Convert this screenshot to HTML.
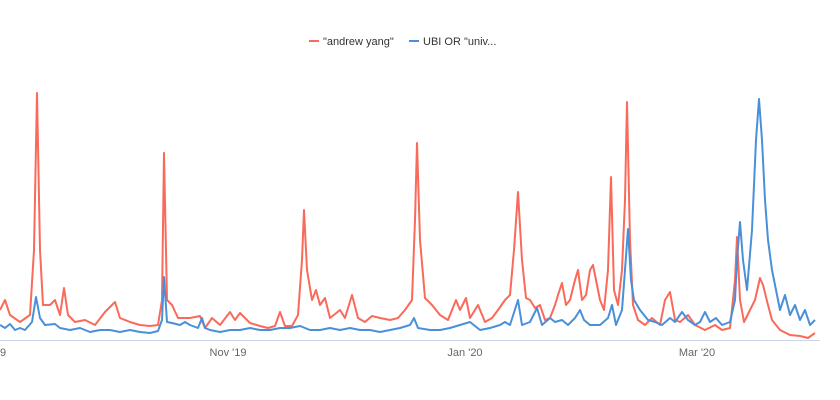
<!DOCTYPE html>
<html><head><meta charset="utf-8"><style>
html,body{margin:0;padding:0;background:#fff;}
svg{display:block;font-family:"Liberation Sans",sans-serif;}
</style></head><body>
<svg width="840" height="400" viewBox="0 0 840 400">
<line x1="0" y1="340.5" x2="820" y2="340.5" stroke="#ccd6eb" stroke-width="1"/>
<g font-size="11" fill="#666">
<text x="0" y="356">9</text>
<text x="228" y="356" text-anchor="middle">Nov '19</text>
<text x="465" y="356" text-anchor="middle">Jan '20</text>
<text x="697" y="356" text-anchor="middle">Mar '20</text>
</g>
<g font-size="11" fill="#333">
<line x1="309" y1="41" x2="319" y2="41" stroke="#fa6a5a" stroke-width="2"/>
<text x="323" y="45">"andrew yang"</text>
<line x1="409" y1="41" x2="419" y2="41" stroke="#4a90d9" stroke-width="2"/>
<text x="423" y="45">UBI OR "univ...</text>
</g>
<polyline fill="none" stroke="#fa6a5a" stroke-width="2" stroke-linejoin="round" points="0,310 5,300 10,315 20,322 30,315 34,250 37,93 40,250 43,305 50,305 55,300 60,315 64,288 68,315 75,322 85,320 95,325 105,312 115,302 120,318 130,322 140,325 150,326 158,325 162,300 164,153 167,300 172,305 178,318 190,318 200,316 205,328 212,318 220,325 230,312 235,320 240,313 250,323 260,326 268,328 275,326 280,312 285,326 292,326 298,315 302,260 304,210 307,270 312,300 316,290 320,305 325,298 330,318 340,310 345,318 352,295 358,318 365,322 372,316 380,318 390,320 398,318 405,310 412,300 415,220 417,143 420,240 425,298 432,305 440,315 448,320 456,300 460,310 466,298 470,318 478,305 485,322 492,318 498,310 505,300 510,295 514,250 518,192 522,260 526,298 530,300 535,308 540,305 545,320 550,318 555,305 558,295 562,283 566,305 570,300 575,280 578,270 582,300 586,295 590,270 593,265 597,285 600,300 604,310 608,270 611,177 614,290 618,305 622,270 625,200 627,102 630,240 633,305 638,320 645,325 652,318 660,325 665,300 670,292 675,320 680,322 688,315 695,325 705,330 715,325 722,330 730,328 735,280 737,237 740,300 744,322 750,310 755,300 760,278 763,285 768,305 772,320 780,330 790,335 800,336 808,338 815,333"/>
<polyline fill="none" stroke="#4a90d9" stroke-width="2" stroke-linejoin="round" points="0,325 5,328 10,324 15,330 20,328 25,330 32,322 36,297 40,318 45,325 55,324 60,328 70,330 80,328 90,332 100,330 110,330 120,332 130,330 140,332 150,333 158,331 162,320 164,277 167,322 172,323 180,325 185,322 190,325 198,328 202,318 205,328 210,330 220,332 230,330 240,330 250,328 260,330 270,330 280,328 290,328 300,326 310,330 320,330 330,328 340,330 350,328 360,330 370,330 380,332 390,330 400,328 410,325 414,318 418,328 430,330 440,330 450,328 460,325 470,322 480,330 490,328 500,325 505,322 510,325 518,300 522,325 530,322 537,308 542,325 550,318 555,322 562,320 568,325 575,318 580,310 584,320 590,325 600,325 608,318 612,305 616,325 622,310 625,270 628,229 631,280 634,300 640,310 648,320 655,322 662,325 670,318 675,322 682,312 688,320 695,325 700,322 705,312 710,322 716,318 722,325 730,322 735,300 737,260 740,222 743,260 747,290 752,230 756,140 759,99 762,140 765,200 768,240 772,270 776,290 780,310 785,295 790,315 795,305 800,320 805,310 810,325 815,320"/>
</svg>
</body></html>
